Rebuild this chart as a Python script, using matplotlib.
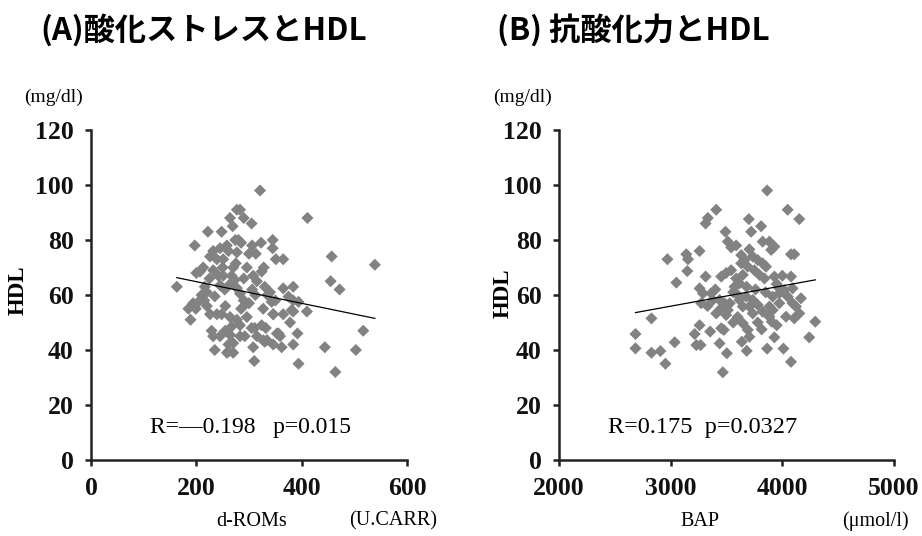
import matplotlib.pyplot as plt

# (A) d-ROMs vs HDL
droms_x = [321, 411, 277, 283, 264, 290, 305, 269, 222, 248, 197, 274, 285, 306, 323, 345, 345, 313,
           351, 365, 457, 539, 455, 472, 163, 384, 410, 517, 444, 503, 464, 394, 310, 189, 185, 199,
           235, 258, 270, 229, 232, 308, 330, 346, 362, 384, 392, 378, 356, 332, 305, 311, 292, 346,
           384, 232, 245, 258, 261, 277, 226, 239, 251, 275, 270, 328, 324, 308, 315, 213, 207, 200,
           232, 242, 251, 267, 273, 216, 220, 235, 245, 254, 264, 277, 283, 306, 312, 194, 204, 226,
           239, 248, 264, 277, 283, 267, 296, 324, 327, 315, 261, 264, 270, 283, 261, 334, 365, 375,
           384, 394, 340, 343, 346, 381, 359, 353, 327, 300, 290, 255, 220, 215, 250, 290, 296, 335,
           300, 280, 295, 255, 245, 225, 210, 285, 330, 350, 365]
droms_y = [98, 88, 91, 91, 88, 88, 86, 85, 83, 83, 78, 80, 79, 78, 79, 80, 77, 75,
           73, 73, 74, 71, 65, 62, 63, 63, 54, 47, 41, 40, 32, 35, 36, 51, 55, 55,
           40, 39, 39, 47, 45, 41, 43, 42, 41, 42, 46, 50, 46, 48, 48, 48, 45, 53,
           54, 76, 77, 78, 76, 75.5, 74, 73, 73, 71.5, 70, 70, 68.5, 67, 65, 70, 68.5, 68,
           69, 67, 67, 67, 65.5, 63, 61, 59.5, 63.5, 62, 64, 62.5, 60.5, 62, 60, 57, 57.5, 53,
           53, 53, 52, 51, 49, 48.5, 52, 49, 43.5, 45, 42, 45.5, 42.5, 45, 39.4, 43.6, 62.4, 59.4,
           58, 57.5, 61, 57.5, 53, 54.5, 45, 46, 55, 57, 58, 56, 56, 58, 70, 66, 70, 60,
           75, 80, 57, 47, 45, 66, 60, 55, 63, 58, 53]
droms_fit_x = [163, 539]
droms_fit_y = [66.3, 51.5]

# (B) BAP vs HDL
bap_x = [3864, 3408, 4048, 4152, 3333, 3313, 3700, 3810, 3721, 3491, 3512, 3542, 3587, 3824, 3884,
         3929, 3900, 3705, 3632, 4078, 4107, 2971, 3140, 3155, 3259, 3149, 3051, 3313, 3453, 3497,
         3542, 3661, 3735, 3780, 3824, 3854, 3690, 3632, 3750, 3795, 3840, 3929, 4078, 3587, 3616,
         3646, 3572, 3259, 3289, 3363, 3378, 3274, 3438, 3482, 3453, 3512, 3408, 3497, 3616, 3676,
         3735, 3646, 3705, 3780, 3735, 3824, 3884, 3914, 3973, 4018, 4092, 4048, 3973, 3914, 3884,
         4033, 4107, 4092, 4167, 4122, 4152, 3973, 2828, 2685, 2685, 2828, 2908, 2953, 3036, 3215,
         3230, 3268, 3259, 3354, 3453, 3476, 3438, 3503, 3467, 3637, 3681, 3646, 3691, 3705, 3815,
         3905, 3929, 3864, 4010, 4078, 4241, 4295, 3560, 3600, 3680, 3760, 3850, 3950, 4000, 3530,
         3400, 3330, 3560, 3600, 3780, 3950]
bap_y = [98, 91, 91, 87.6, 88, 86, 87.6, 85, 83, 83, 79.4, 77.3, 78, 79.4, 79.4,
         77.6, 76.4, 76.6, 74.5, 74.8, 74.8, 73, 74.8, 73, 76, 68.7, 64.5, 66.7, 66.7, 68,
         69, 72.7, 74, 72.7, 71.5, 70.3, 70.3, 71.5, 69, 67.3, 66, 66.7, 66.7, 66, 64.2,
         67.3, 63, 62.4, 60.6, 60.6, 58.2, 57, 58.2, 57, 55.2, 54.5, 53.3, 52.7, 58.2, 59.4,
         58.2, 55.8, 55.8, 56.4, 53.3, 53.9, 55.8, 59.4, 60.6, 61.8, 62.4, 59.4, 57, 54.5, 52.1,
         52.1, 51.5, 57, 58.8, 55.8, 53.3, 62.4, 51.5, 45.8, 40.6, 39, 39.6, 35, 42.8, 45.8,
         41.8, 41.8, 49, 46.7, 47.9, 47.3, 42.4, 38.8, 31.9, 43, 39.7, 49.7, 47.3, 44.8, 47.5,
         50.3, 44.6, 40.5, 40.5, 35.7, 44.6, 50.3, 61, 60, 63, 62, 61, 64, 67, 57,
         62, 56, 50, 52, 50, 49]
bap_fit_x = [2685, 4295]
bap_fit_y = [53.6, 65.5]

yticks = [0, 20, 40, 60, 80, 100, 120]

serif = "Liberation Serif"
cjk = ["Noto Sans CJK JP", "DejaVu Sans"]
spine_col = "#222222"
marker_col = "#828282"

fig = plt.figure(figsize=(9.22, 5.36), dpi=100)
ax1 = fig.add_axes([0.0987, 0.1418, 0.3427, 0.6157])
ax2 = fig.add_axes([0.6063, 0.1418, 0.3633, 0.6157])


def style(ax, xlim, xticks):
    ax.set_xlim(xlim)
    ax.set_ylim(0, 120)
    ax.set_xticks(xticks)
    ax.set_yticks(yticks)
    for s in ["top", "right"]:
        ax.spines[s].set_visible(False)
    for s in ["left", "bottom"]:
        ax.spines[s].set_linewidth(1.8)
        ax.spines[s].set_color(spine_col)
    ax.tick_params(direction="out", length=4.5, width=1.8, color=spine_col)
    ax.tick_params(axis="y", pad=8)
    ax.tick_params(axis="x", pad=8)
    for lab in ax.get_xticklabels() + ax.get_yticklabels():
        lab.set_fontfamily(serif)
        lab.set_fontweight("bold")
        lab.set_fontsize(18.5)
        lab.set_color("#111111")


ax1.scatter(droms_x, droms_y, marker="D", s=38, color=marker_col, edgecolors="none", zorder=2)
ax1.plot(droms_fit_x, droms_fit_y, color="black", lw=0.9, zorder=3)
style(ax1, (0, 600), [0, 200, 400, 600])

ax2.scatter(bap_x, bap_y, marker="D", s=38, color=marker_col, edgecolors="none", zorder=2)
ax2.plot(bap_fit_x, bap_fit_y, color="black", lw=0.9, zorder=3)
style(ax2, (2000, 5000), [2000, 3000, 4000, 5000])

# titles
fig.text(40 / 922, 1 - 30 / 536, "(A)酸化ストレスとHDL", family=cjk, fontsize=22.5,
         fontweight="bold", va="center", ha="left")
fig.text(497 / 922, 1 - 30 / 536, "(B) 抗酸化力とHDL", family=cjk, fontsize=22.5,
         fontweight="bold", va="center", ha="left")

# unit labels
fig.text(24 / 922, 1 - 97 / 536, "(mg/dl)", family=serif, fontsize=14, va="center")
fig.text(493 / 922, 1 - 97 / 536, "(mg/dl)", family=serif, fontsize=14, va="center")
fig.text(18 / 922, 1 - 290 / 536, "HDL", family=serif, fontsize=16.5, fontweight="bold",
         rotation=90, va="center", ha="center")
fig.text(503 / 922, 1 - 293 / 536, "HDL", family=serif, fontsize=16.5, fontweight="bold",
         rotation=90, va="center", ha="center")

fig.text(252 / 922, 1 - 521 / 536, "d-ROMs", family=serif, fontsize=14.5, va="center", ha="center")
fig.text(393 / 922, 1 - 521 / 536, "(U.CARR)", family=serif, fontsize=14.5, va="center", ha="center")
fig.text(700 / 922, 1 - 521 / 536, "BAP", family=serif, fontsize=14.5, va="center", ha="center")
fig.text(875 / 922, 1 - 521 / 536, "(μmol/l)", family=serif, fontsize=14.5, va="center", ha="center")

# correlation annotations
fig.text(150 / 922, 1 - 427 / 536, "R=\u20140.198   p=0.015", family=serif, fontsize=17, va="center")
fig.text(608 / 922, 1 - 427 / 536, "R=0.175  p=0.0327", family=serif, fontsize=17.5, va="center")

fig.savefig("out.png", dpi=100)
